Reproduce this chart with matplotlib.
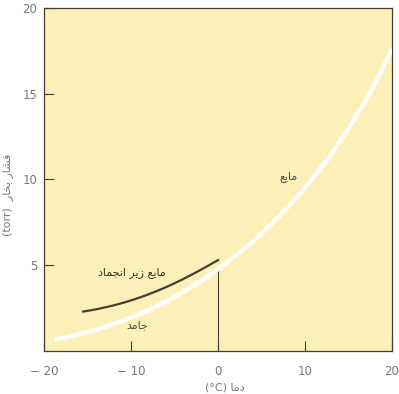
import numpy as np
import matplotlib.pyplot as plt

# white curve: solid (below 0) and liquid (above 0) vapour pressure
temp = [-18.8, -15, -10, -5, 0, 5, 10, 15, 20]
pressure = [0.65, 1.15, 2.0, 3.05, 4.65, 6.9, 9.6, 13.3, 17.3]

# dark curve: supercooled liquid
temp_sc = [-15.5, -10, -5, 0]
pressure_sc = [2.3, 2.95, 3.95, 5.3]

x_ticks = [-20, -10, 0, 10, 20]
x_labels = ['\u2212 20', '\u2212 10', '0', '10', '20']
y_ticks = [5, 10, 15, 20]

# Persian labels written in visual order with presentation forms
lbl_liquid = '\ufeca\ufef3\ufe8e\ufee3'
lbl_super = '\ufea9\ufe8e\ufee4\ufea0\ufee7\ufe8d \ufeae\ufef3\ufeaf \ufeca\ufef3\ufe8e\ufee3'
lbl_solid = '\ufeaa\ufee3\ufe8e\ufe9f'
xlabel = '(\u00b0C) \ufe8e\ufee3\ufea9'
ylabel = '(torr)  \ufead\ufe8e\ufea8\ufe91 \ufead\ufe8e\ufeb8\ufed3'

plt.rcParams['font.family'] = ['DejaVu Sans']

fig = plt.figure(figsize=(3.99, 3.94), dpi=100)
ax = fig.add_axes([44 / 399, 1 - 351 / 394, 348 / 399, 343 / 394])
ax.set_facecolor('#fcf0b9')

def smooth(xs, ys, n=200):
    xs, ys = np.array(xs), np.array(ys)
    c = np.polyfit(xs, np.log(ys), 3)
    xx = np.linspace(xs[0], xs[-1], n)
    return xx, np.exp(np.polyval(c, xx))

xx, yy = smooth(temp, pressure)
ax.plot(xx, yy, color='white', lw=3.2, solid_capstyle='butt', zorder=3)
xs, ys = smooth(temp_sc, pressure_sc)
ax.plot(xs, ys, color='#4a3c30', lw=1.6, zorder=3)
ax.plot([0, 0], [0, 4.7], color='#4a3c30', lw=0.8, zorder=2)

ax.set_xlim(-20, 20)
ax.set_ylim(0, 20)
ax.set_xticks(x_ticks)
ax.set_xticklabels(x_labels)
ax.set_yticks(y_ticks)
ax.tick_params(direction='in', length=7, width=0.8, color='#4a3c30',
               labelsize=8.5, labelcolor='#777777')
ax.tick_params(axis='x', pad=10)
ax.tick_params(axis='y', pad=5)
for s in ax.spines.values():
    s.set_color('#4a3c30')
    s.set_linewidth(0.9)

ax.text(8.1, 10.2, lbl_liquid, fontsize=8, color='#5a4a3a', ha='center', va='center')
ax.text(-9.9, 4.6, lbl_super, fontsize=8, color='#3a2e24', ha='center', va='center')
ax.text(-9.3, 1.5, lbl_solid, fontsize=8, color='#5a4a3a', ha='center', va='center')

fig.text(225 / 399, 1 - 388 / 394, xlabel, fontsize=8, color='#777777', ha='center', va='center')
fig.text(8 / 399, 1 - 195 / 394, ylabel, fontsize=8, color='#777777', ha='center', va='center',
         rotation=90)

fig.savefig('out.png', dpi=100, facecolor='white')
